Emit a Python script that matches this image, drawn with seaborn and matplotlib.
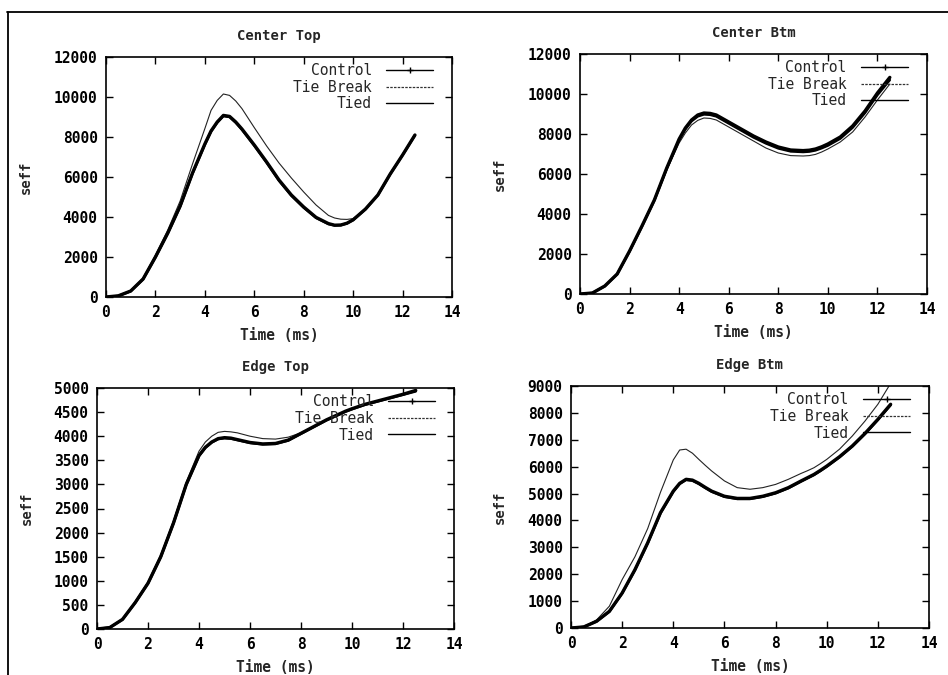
import matplotlib
matplotlib.use("Agg")
import matplotlib.pyplot as plt
from matplotlib.lines import Line2D
import pandas as pd
import seaborn as sns

# ---------------- data ----------------
time_ms = [0, 0.5, 1, 1.5, 2, 2.5, 3, 3.5, 4, 4.25, 4.5, 4.75, 5, 5.25, 5.5, 6, 6.5,
           7, 7.5, 8, 8.5, 9, 9.25, 9.5, 9.75, 10, 10.5, 11, 11.5, 12, 12.5]
series_names = ["Control", "Tie Break", "Tied"]
panel_titles = ["Center Top", "Center Btm", "Edge Top", "Edge Btm"]
x_ticks = [0, 2, 4, 6, 8, 10, 12, 14]

# Center Top
ct_control = [0, 60, 300, 900, 2000, 3200, 4550, 6200, 7650, 8300, 8750, 9080, 9030, 8750, 8400,
              7600, 6750, 5850, 5100, 4500, 3980, 3670, 3590, 3600, 3690, 3860, 4400, 5100, 6150,
              7100, 8100]
ct_tiebreak = [0, 60, 320, 950, 2100, 3350, 4800, 6650, 8420, 9330, 9830, 10150, 10080, 9800, 9420,
               8470, 7550, 6700, 5950, 5250, 4600, 4080, 3950, 3890, 3880, 3920, 4400, 5100, 6150,
               7100, 8100]
ct_tied = [0, 50, 290, 880, 1980, 3180, 4520, 6170, 7620, 8270, 8720, 9050, 9000, 8720, 8370,
           7570, 6720, 5820, 5070, 4470, 3960, 3650, 3580, 3590, 3680, 3850, 4390, 5090, 6140,
           7090, 8080]

# Center Btm
cb_control = [0, 50, 400, 1000, 2150, 3400, 4700, 6300, 7750, 8300, 8700, 8950, 9050, 9030, 8950,
              8600, 8250, 7900, 7600, 7350, 7200, 7170, 7190, 7250, 7360, 7500, 7850, 8400, 9150,
              10050, 10830]
cb_tiebreak = [0, 50, 380, 980, 2100, 3350, 4650, 6200, 7550, 8050, 8450, 8680, 8800, 8780, 8700,
               8350, 8000, 7650, 7300, 7050, 6920, 6900, 6920, 6980, 7100, 7250, 7600, 8100, 8850,
               9700, 10500]
cb_tied = [0, 50, 390, 990, 2130, 3380, 4680, 6270, 7700, 8240, 8640, 8880, 8980, 8960, 8880,
           8530, 8180, 7830, 7530, 7280, 7130, 7100, 7120, 7180, 7290, 7420, 7770, 8320, 9060,
           9950, 10700]

# Edge Top
et_control = [0, 30, 200, 550, 950, 1500, 2200, 3000, 3600, 3770, 3880, 3950, 3970, 3960, 3930,
              3870, 3840, 3850, 3920, 4060, 4200, 4340, 4400, 4460, 4520, 4570, 4660, 4730, 4800,
              4870, 4950]
et_tiebreak = [0, 30, 210, 570, 980, 1540, 2250, 3050, 3690, 3880, 4000, 4080, 4100, 4090, 4070,
               4000, 3950, 3940, 3980, 4070, 4200, 4340, 4400, 4460, 4520, 4570, 4660, 4730, 4800,
               4870, 4940]
et_tied = [0, 30, 195, 545, 945, 1490, 2190, 2990, 3590, 3760, 3870, 3940, 3960, 3950, 3920,
           3860, 3830, 3840, 3910, 4050, 4190, 4330, 4390, 4450, 4510, 4560, 4650, 4720, 4790,
           4860, 4930]

# Edge Btm
eb_control = [0, 40, 250, 620, 1300, 2170, 3170, 4290, 5090, 5380, 5530, 5500, 5380, 5230, 5090,
              4900, 4820, 4820, 4900, 5030, 5220, 5470, 5590, 5710, 5860, 6020, 6370, 6770, 7240,
              7760, 8320]
eb_tiebreak = [0, 40, 300, 810, 1800, 2650, 3700, 5050, 6250, 6620, 6650, 6500, 6270, 6050, 5840,
               5470, 5220, 5160, 5220, 5340, 5530, 5750, 5850, 5960, 6110, 6270, 6650, 7140, 7700,
               8320, 9100]
eb_tied = [0, 40, 245, 610, 1290, 2150, 3150, 4270, 5070, 5360, 5510, 5480, 5360, 5210, 5070,
           4880, 4800, 4800, 4880, 5010, 5200, 5450, 5570, 5690, 5840, 6000, 6350, 6750, 7220,
           7740, 8290]

panel_data = [
    (ct_control, ct_tiebreak, ct_tied),
    (cb_control, cb_tiebreak, cb_tied),
    (et_control, et_tiebreak, et_tied),
    (eb_control, eb_tiebreak, eb_tied),
]
y_limits = [12000, 12000, 5000, 9000]
y_ticks = [
    [0, 2000, 4000, 6000, 8000, 10000, 12000],
    [0, 2000, 4000, 6000, 8000, 10000, 12000],
    [0, 500, 1000, 1500, 2000, 2500, 3000, 3500, 4000, 4500, 5000],
    [0, 1000, 2000, 3000, 4000, 5000, 6000, 7000, 8000, 9000],
]

# ---------------- styling ----------------
sns.set_style("ticks")
plt.rcParams["font.family"] = ["DejaVu Sans Mono", "DejaVu Sans"]
plt.rcParams["axes.linewidth"] = 1.2

W, H = 948, 675
fig = plt.figure(figsize=(W / 100, H / 100), dpi=100)

# axes rectangles in pixel coordinates: left, top, right, bottom
rects_px = [(106, 57, 452, 297), (580, 54, 927, 294),
            (97, 388, 454, 629), (571, 386, 929, 628)]
ylabel_x_px = [33, 507, 34, 507]

styles = {
    "Control": dict(color="black", lw=2.4, ls="-"),
    "Tie Break": dict(color="#222222", lw=0.8, ls="-"),
    "Tied": dict(color="black", lw=1.8, ls="-"),
}

for i, (l, t, r, b) in enumerate(rects_px):
    ax = fig.add_axes([l / W, 1 - b / H, (r - l) / W, (b - t) / H])
    ctrl, tb, tied = panel_data[i]
    n = len(time_ms)
    df = pd.DataFrame({
        "time": time_ms * 3,
        "seff": list(ctrl) + list(tb) + list(tied),
        "series": [series_names[0]] * n + [series_names[1]] * n + [series_names[2]] * n,
    })
    for name in ["Tie Break", "Tied", "Control"]:
        st = styles[name]
        sns.lineplot(data=df[df["series"] == name], x="time", y="seff", ax=ax,
                     color=st["color"], linewidth=st["lw"], linestyle=st["ls"],
                     legend=False, errorbar=None, sort=False)

    ax.set_xlim(0, 14)
    ax.set_ylim(0, y_limits[i])
    ax.set_xticks(x_ticks)
    ax.set_yticks(y_ticks[i])
    ax.tick_params(direction="in", length=5, width=1, top=True, right=True,
                   labelsize=10.5, pad=6, colors="black")
    for lab in ax.get_xticklabels() + ax.get_yticklabels():
        lab.set_fontweight("bold")
    for sp in ax.spines.values():
        sp.set_color("black")
        sp.set_linewidth(1.2)

    ax.set_title(panel_titles[i], fontsize=10, fontweight="bold", pad=12.5)
    ax.set_xlabel("Time (ms)", fontsize=10.5, fontweight="bold")
    ax.set_ylabel("seff", fontsize=10, fontweight="bold")
    ax.xaxis.set_label_coords(0.5, -0.13)
    ax.yaxis.set_label_coords((ylabel_x_px[i] - l) / (r - l), 0.5)

    handles = [
        Line2D([], [], color="black", lw=1.0, marker="+", markersize=5),
        Line2D([], [], color="#333333", lw=0.9, ls=(0, (2, 1))),
        Line2D([], [], color="black", lw=1.0),
    ]
    ax.legend(handles, series_names, loc="upper right",
              bbox_to_anchor=((r - 19 - l) / (r - l), 1 - 6 / (b - t)),
              frameon=False, markerfirst=False, handlelength=3.2,
              handletextpad=1.0, labelspacing=0.12, borderpad=0,
              borderaxespad=0, fontsize=10.5)

# scanned page border lines
fig.add_artist(Line2D([7 / W, 1.0], [1 - 12 / H, 1 - 12 / H], transform=fig.transFigure,
                      color="black", lw=1.3))
fig.add_artist(Line2D([8 / W, 8 / W], [0.0, 1 - 12 / H], transform=fig.transFigure,
                      color="black", lw=1.3))

fig.savefig("out.png", dpi=100, facecolor="white")
